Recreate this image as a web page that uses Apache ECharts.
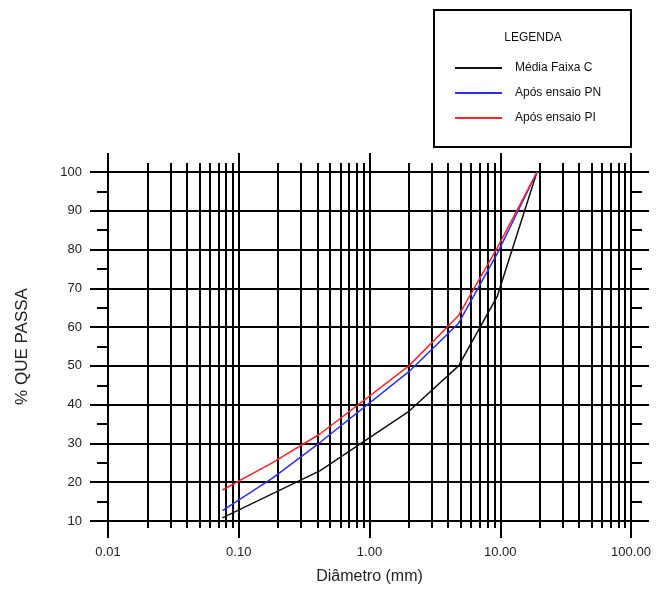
<!DOCTYPE html>
<html>
<head>
<meta charset="utf-8">
<script src="https://cdn.jsdelivr.net/npm/echarts@6/dist/echarts.min.js"></script>
<style>
  html, body { margin: 0; padding: 0; background: #fff; }
  #chart { width: 660px; height: 590px; }
</style>
</head>
<body>
<div id="chart"></div>
<script>
// peneiras (mm) e % que passa
const sieves = [0.075, 0.18, 0.42, 2.0, 4.8, 9.5, 19.1];
const mediaFaixaC = [10.8, 17, 23, 38.3, 50, 68, 100];
const aposEnsaioPN = [12.7, 21, 30.3, 48.5, 61, 79, 100];
const aposEnsaioPI = [18, 25, 32.5, 50, 63, 80.5, 100];

const seriesNames = ['Média Faixa C', 'Após ensaio PN', 'Após ensaio PI'];
const seriesColors = ['#111111', '#2b2bff', '#ff2222'];

// ticks do eixo log
const majorTicks = [0.01, 0.1, 1, 10, 100];
const minorTicks = [
  0.02, 0.03, 0.04, 0.05, 0.06, 0.07, 0.08, 0.09,
  0.2, 0.3, 0.4, 0.5, 0.6, 0.7, 0.8, 0.9,
  2, 3, 4, 5, 6, 7, 8, 9,
  20, 30, 40, 50, 60, 70, 80, 90
];

const gridLine = { color: '#000', width: 2 };
const font = 'Liberation Sans, Arial, sans-serif';

function pairs(values) {
  return sieves.map((d, i) => [d, values[i]]);
}

function logAxis(position, ticks, len, extra) {
  return Object.assign({
    type: 'log',
    logBase: 10,
    min: 0.01,
    max: 100,
    position: position,
    axisLine: { show: false },
    axisTick: { show: true, customValues: ticks, length: len, lineStyle: gridLine },
    axisLabel: { show: false },
    splitLine: { show: false }
  }, extra || {});
}

const chart = echarts.init(document.getElementById('chart'), null, { renderer: 'canvas' });

const option = {
  animation: false,
  backgroundColor: '#fff',
  title: {
    text: 'LEGENDA',
    left: 533,
    top: 32,
    textAlign: 'center',
    padding: 0,
    textStyle: { fontFamily: font, fontSize: 12, fontWeight: 'normal', color: '#111' }
  },
  legend: {
    orient: 'vertical',
    left: 455,
    top: 61,
    padding: 0,
    itemGap: 11,
    itemWidth: 47,
    itemHeight: 2,
    icon: 'rect',
    data: seriesNames,
    textStyle: { fontFamily: font, fontSize: 12, color: '#111', lineHeight: 14, padding: [0, 0, 0, 8] }
  },
  graphic: [{
    type: 'rect',
    shape: { x: 434, y: 10, width: 197, height: 137 },
    style: { fill: 'none', stroke: '#000', lineWidth: 2 },
    z: 10
  }],
  grid: { left: 108, right: 29, top: 172, bottom: 68 },
  xAxis: [
    logAxis('bottom', majorTicks, 17, {
      axisLine: { show: true, lineStyle: gridLine },
      axisLabel: {
        show: true,
        customValues: majorTicks,
        margin: 25,
        fontFamily: font,
        fontSize: 13,
        color: '#222',
        formatter: v => Number(v).toFixed(2)
      },
      splitLine: { show: true, lineStyle: gridLine },
      name: 'Diâmetro (mm)',
      nameLocation: 'middle',
      nameGap: 48,
      nameTextStyle: { fontFamily: font, fontSize: 16, color: '#222' }
    }),
    logAxis('bottom', minorTicks, 7, { splitLine: { show: true, lineStyle: gridLine } }),
    logAxis('top', majorTicks, 19),
    logAxis('top', minorTicks, 9)
  ],
  yAxis: [
    {
      type: 'value',
      min: 10,
      max: 100,
      interval: 10,
      position: 'left',
      axisLine: { show: true, lineStyle: gridLine },
      axisTick: { show: true, length: 18, lineStyle: gridLine },
      minorTick: { show: true, splitNumber: 2, length: 11, lineStyle: gridLine },
      axisLabel: { margin: 26, fontFamily: font, fontSize: 13, color: '#222' },
      splitLine: { show: true, lineStyle: gridLine },
      name: '% QUE PASSA',
      nameLocation: 'middle',
      nameGap: 77,
      nameRotate: 90,
      nameTextStyle: { fontFamily: font, fontSize: 17, color: '#222' }
    },
    {
      type: 'value',
      min: 10,
      max: 100,
      interval: 10,
      position: 'right',
      axisLine: { show: true, lineStyle: gridLine },
      axisTick: { show: true, length: 18, lineStyle: gridLine },
      minorTick: { show: true, splitNumber: 2, length: 11, lineStyle: gridLine },
      axisLabel: { show: false },
      splitLine: { show: false }
    }
  ],
  series: [mediaFaixaC, aposEnsaioPN, aposEnsaioPI].map((vals, i) => ({
    name: seriesNames[i],
    type: 'line',
    xAxisIndex: 0,
    yAxisIndex: 0,
    data: pairs(vals),
    showSymbol: false,
    symbol: 'none',
    color: seriesColors[i],
    lineStyle: { color: seriesColors[i], width: 1.5 },
    z: 5
  }))
};

chart.setOption(option);
</script>
</body>
</html>
